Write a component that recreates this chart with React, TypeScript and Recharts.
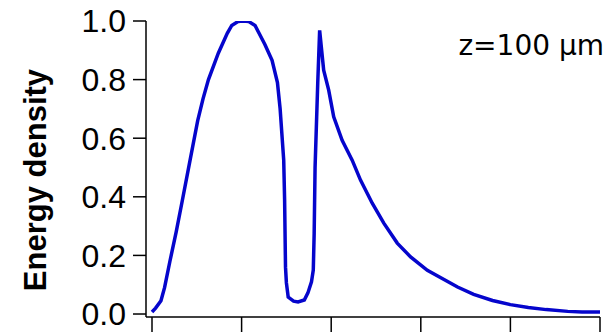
import React from "react";
import { LineChart, Line, XAxis, YAxis, Customized } from "recharts";

const xValues = [
  0.0, 0.04, 0.1, 0.14, 0.2, 0.27, 0.34, 0.425, 0.51, 0.57, 0.63, 0.74, 0.84, 0.89, 0.96, 1.02, 1.08, 1.15,
  1.26, 1.34, 1.4, 1.43, 1.47, 1.48, 1.49, 1.5, 1.52, 1.58, 1.63, 1.7, 1.74, 1.78, 1.8, 1.81, 1.82,
  1.85, 1.871, 1.916, 1.972, 2.028, 2.122, 2.234, 2.327, 2.458, 2.587, 2.737, 2.886, 3.073, 3.259, 3.41,
  3.59, 3.8, 4.0, 4.2, 4.4, 4.64, 4.8, 5.0,
];
const energyDensity = [
  0.007, 0.02, 0.045, 0.09, 0.18, 0.28, 0.39, 0.525, 0.66, 0.735, 0.8, 0.89, 0.958, 0.985, 0.998, 1.0, 0.998, 0.985,
  0.92, 0.866, 0.79, 0.7, 0.525, 0.39, 0.16, 0.106, 0.058, 0.044, 0.041, 0.048, 0.072, 0.11, 0.15, 0.276, 0.5,
  0.79, 0.968, 0.832, 0.764, 0.673, 0.593, 0.525, 0.457, 0.378, 0.31, 0.242, 0.195, 0.149, 0.118, 0.092,
  0.067, 0.046, 0.032, 0.022, 0.015, 0.009, 0.007, 0.007,
];
const xTicks = [0, 1, 2, 3, 4, 5];
const yTicks = [0, 0.2, 0.4, 0.6, 0.8, 1.0];
const yAxisTitle = "Energy density";
const annotation = "z=100 μm";

const data = xValues.map((x, i) => ({ x, y: energyDensity[i] }));

const FONT = "'Liberation Sans', Arial, sans-serif";

const EmptyTick = () => <g />;

const Overlay = () => (
  <g>
    <text
      x={46}
      y={180}
      textAnchor="middle"
      transform="rotate(-90, 46, 180)"
      fontFamily={FONT}
      fontWeight="bold"
      fontSize={31}
      fill="#000"
    >
      {yAxisTitle}
    </text>
    <text
      x={604}
      y={55}
      textAnchor="end"
      fontFamily="'DejaVu Sans', sans-serif"
      fontSize={28}
      fill="#000"
    >
      {annotation}
    </text>
  </g>
);

export default function App() {
  return (
    <div style={{ position: "absolute", left: 0, top: 0, background: "#fff" }}>
      <LineChart width={610} height={335} data={data} margin={{ top: 21, right: 10, bottom: 0, left: 0 }}>
        <XAxis
          type="number"
          dataKey="x"
          domain={[-0.067, 5.0]}
          ticks={xTicks}
          tick={EmptyTick}
          tickSize={15}
          height={18}
          axisLine={{ stroke: "#000", strokeWidth: 1.5 }}
          tickLine={{ stroke: "#000", strokeWidth: 1.5 }}
          allowDataOverflow
        />
        <YAxis
          type="number"
          domain={[-0.0102, 1.0]}
          ticks={yTicks}
          width={146}
          tickSize={13}
          tickMargin={7}
          tickFormatter={(v: number) => v.toFixed(1)}
          tick={{ fontFamily: FONT, fontSize: 32, fill: "#000" }}
          axisLine={{ stroke: "#000", strokeWidth: 1.5 }}
          tickLine={{ stroke: "#000", strokeWidth: 1.5 }}
          allowDataOverflow
        />
        <Line
          type="linear"
          dataKey="y"
          stroke="#0505cc"
          strokeWidth={3.5}
          dot={false}
          isAnimationActive={false}
        />
        <Customized component={Overlay} />
      </LineChart>
    </div>
  );
}
